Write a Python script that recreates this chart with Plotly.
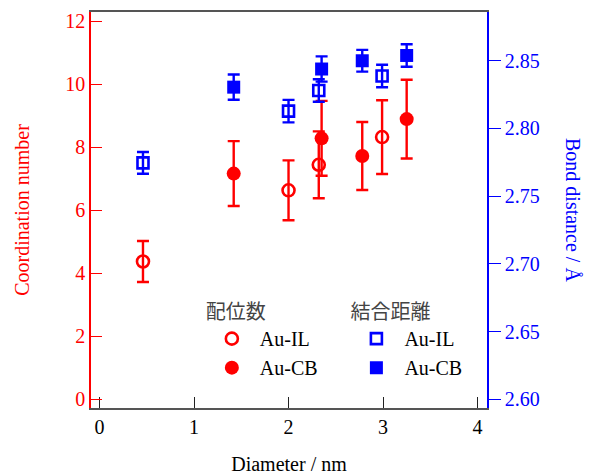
import plotly.graph_objects as go

# ---- data ----
diam_il = [0.46, 2.00, 2.32, 2.99]
diam_cb = [1.42, 2.35, 2.78, 3.25]

cn_il = [4.37, 6.63, 7.44, 8.32]
cn_il_err = [0.65, 0.95, 1.06, 1.17]
cn_cb = [7.16, 8.28, 7.72, 8.89]
cn_cb_err = [1.03, 1.19, 1.08, 1.25]

bd_il = [2.7746, 2.8128, 2.8280, 2.8387]
bd_il_err = [0.0080, 0.0083, 0.0083, 0.0083]
bd_cb = [2.8305, 2.8439, 2.8500, 2.8539]
bd_cb_err = [0.0093, 0.0093, 0.0080, 0.0083]

x_ticks = [0, 1, 2, 3, 4]
y_left_ticks = [0, 2, 4, 6, 8, 10, 12]
y_right_ticks = [2.60, 2.65, 2.70, 2.75, 2.80, 2.85]

RED = "#ff0000"
BLUE = "#0000ff"
SERIF = "Liberation Serif"
CJK = "Noto Sans CJK JP"

fig = go.Figure()

def err(vals, color):
    return dict(type="data", array=vals, visible=True, color=color,
                thickness=2.4, width=6)

fig.add_trace(go.Scatter(
    x=diam_il, y=cn_il, mode="markers", name="Au-IL",
    marker=dict(symbol="circle-open", size=12, color=RED, line=dict(width=2.6, color=RED)),
    error_y=err(cn_il_err, RED), legend="legend", yaxis="y"))
fig.add_trace(go.Scatter(
    x=diam_cb, y=cn_cb, mode="markers", name="Au-CB",
    marker=dict(symbol="circle", size=14, color=RED),
    error_y=err(cn_cb_err, RED), legend="legend", yaxis="y"))
fig.add_trace(go.Scatter(
    x=diam_il, y=bd_il, mode="markers", name="Au-IL",
    marker=dict(symbol="square-open", size=11, color=BLUE, line=dict(width=2.6, color=BLUE)),
    error_y=err(bd_il_err, BLUE), legend="legend2", yaxis="y2"))
fig.add_trace(go.Scatter(
    x=diam_cb, y=bd_cb, mode="markers", name="Au-CB",
    marker=dict(symbol="square", size=13, color=BLUE),
    error_y=err(bd_cb_err, BLUE), legend="legend2", yaxis="y2"))

leg_common = dict(
    xanchor="left", yanchor="top", bgcolor="rgba(0,0,0,0)",
    font=dict(family=SERIF, size=20, color="#000"),
    tracegroupgap=0, itemwidth=46,
)

fig.update_layout(
    width=590, height=475,
    margin=dict(l=91, r=103, t=12, b=67),
    paper_bgcolor="white", plot_bgcolor="white",
    font=dict(family=SERIF, size=20, color="#000"),
    showlegend=True,
    legend=dict(x=0.285, y=0.29,
                title=dict(text="配位数", font=dict(family=CJK, size=20, color="#444")),
                **leg_common),
    legend2=dict(x=0.65, y=0.29,
                 title=dict(text="結合距離", font=dict(family=CJK, size=20, color="#444")),
                 **leg_common),
    xaxis=dict(
        range=[-0.09, 4.1], tickvals=x_ticks, ticks="inside", ticklen=11,
        tickcolor="#222", tickwidth=1.2, linecolor="#555", linewidth=2, mirror=True,
        showgrid=False, zeroline=False, tickfont=dict(family=SERIF, size=20, color="#000"),
        ticklabelstandoff=0, automargin=False,
        title=dict(text="Diameter / nm", font=dict(family=SERIF, size=20, color="#000"), standoff=22),
    ),
    yaxis=dict(
        range=[-0.28, 12.29], tickvals=y_left_ticks, ticks="inside", ticklen=11,
        tickcolor=RED, linecolor=RED, linewidth=1.5, showgrid=False, zeroline=False,
        tickfont=dict(family=SERIF, size=20, color=RED), automargin=False,
        title=dict(text="Coordination number", font=dict(family=SERIF, size=20, color=RED), standoff=30),
    ),
    yaxis2=dict(
        range=[2.5936, 2.886], tickvals=y_right_ticks, tickformat=".2f",
        overlaying="y", side="right", ticks="outside", ticklen=12,
        tickcolor=BLUE, linecolor=BLUE, linewidth=1.5, showgrid=False, zeroline=False,
        tickfont=dict(family=SERIF, size=20, color=BLUE), automargin=False,
    ),
    annotations=[dict(
        text="Bond distance / Å", textangle=90, xref="paper", yref="paper",
        x=1.0, xshift=86, y=0.5, xanchor="center", yanchor="middle",
        showarrow=False, font=dict(family=SERIF, size=20, color=BLUE),
    )],
)

fig.write_html("out.html")
